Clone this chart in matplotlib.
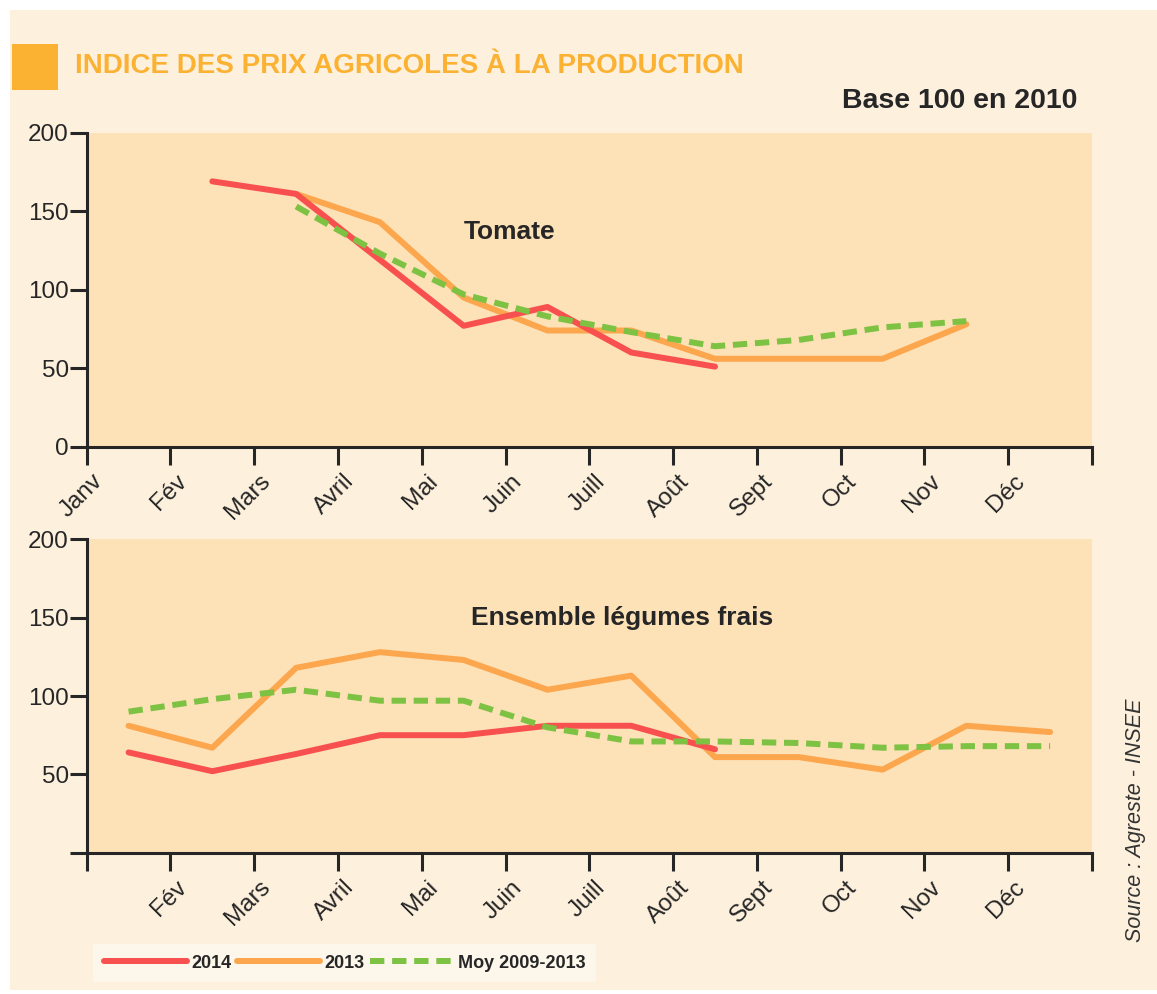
import numpy as np
import matplotlib
matplotlib.use('Agg')
import matplotlib.pyplot as plt
import matplotlib.transforms as mtransforms
from matplotlib.patches import Rectangle
from matplotlib.lines import Line2D

# ---------------- data ----------------
months = ['Janv', 'Fév', 'Mars', 'Avril', 'Mai', 'Juin', 'Juill', 'Août',
          'Sept', 'Oct', 'Nov', 'Déc']
nan = np.nan
tomate_2014 = [nan, 169, 161, 119, 77, 89, 60, 51, nan, nan, nan, nan]
tomate_2013 = [nan, nan, 161, 143, 95, 74, 74, 56, 56, 56, 78, nan]
tomate_moy = [nan, nan, 153, 123, 97, 83, 73, 64, 68, 76, 80, nan]
legumes_2014 = [64, 52, 63, 75, 75, 81, 81, 66, nan, nan, nan, nan]
legumes_2013 = [81, 67, 118, 128, 123, 104, 113, 61, 61, 53, 81, 77]
legumes_moy = [90, 98, 104, 97, 97, 80, 71, 71, 70, 67, 68, 68]
yticks = [0, 50, 100, 150, 200]
series_labels = ['2014', '2013', 'Moy 2009-2013']

# ---------------- style ----------------
RED = '#F7504F'
ORANGE = '#FCA64E'
GREEN = '#7DC242'
PEACH = '#FDE1B7'
CREAM = '#FDF0DD'
TITLE_OR = '#FBB132'
DARK = '#262626'

sans = ['Liberation Sans', 'DejaVu Sans']
plt.rcParams['font.family'] = sans

W, H = 1157, 994
fig = plt.figure(figsize=(W / 100, H / 100), dpi=100)
fig.patch.set_facecolor('white')
fig.patches.append(Rectangle((10 / W, 4 / H), 1 - 10 / W, 1 - 14 / H,
                             transform=fig.transFigure, facecolor=CREAM,
                             edgecolor='none', zorder=-5))
# title square
fig.patches.append(Rectangle((12 / W, 1 - 90 / H), 46 / W, 46 / H,
                             transform=fig.transFigure, facecolor=TITLE_OR,
                             edgecolor='none', zorder=-4))
fig.text(75 / W, 1 - 66 / H, 'INDICE DES PRIX AGRICOLES À LA PRODUCTION',
         family=sans, fontweight='bold', fontsize=20, color=TITLE_OR,
         va='center', ha='left')
fig.text(1077 / W, 1 - 101 / H, 'Base 100 en 2010', family=sans,
         fontweight='bold', fontsize=20.5, color=DARK, va='center', ha='right')

x = np.arange(12) + 0.5
lw = 4.3
label_shift = mtransforms.ScaledTranslation(5 / 100, 0, fig.dpi_scale_trans)


def style_axes(ax, labels, show_zero):
    ax.set_facecolor(PEACH)
    ax.set_xlim(0, 12)
    ax.set_ylim(0, 200)
    for s in ['top', 'right']:
        ax.spines[s].set_visible(False)
    for s in ['left', 'bottom']:
        ax.spines[s].set_color(DARK)
        ax.spines[s].set_linewidth(2.2)
    ax.set_xticks(np.arange(13))
    ax.set_xticklabels(labels, rotation=45, ha='right',
                       rotation_mode='anchor', fontsize=17.5, color=DARK)
    ax.set_yticks(yticks)
    ax.set_yticklabels([str(v) if (v != 0 or show_zero) else '' for v in yticks],
                       fontsize=17.5, color=DARK)
    ax.tick_params(axis='x', direction='out', length=13, width=2.2,
                   color=DARK, pad=4)
    ax.tick_params(axis='y', direction='out', length=12, width=2.2,
                   color=DARK, pad=1)
    for lab in ax.get_xticklabels():
        lab.set_transform(lab.get_transform() + label_shift)


def draw(ax, s14, s13, smoy):
    ax.plot(x, s13, color=ORANGE, lw=lw, solid_capstyle='round',
            solid_joinstyle='round', zorder=3)
    ax.plot(x, s14, color=RED, lw=lw, solid_capstyle='round',
            solid_joinstyle='round', zorder=4)
    ax.plot(x, smoy, color=GREEN, lw=lw, dashes=(2.4, 1.3),
            dash_capstyle='butt', zorder=5)


ax1 = fig.add_axes([86.7 / W, 1 - 446.7 / H, (1092 - 86.7) / W, 314 / H])
style_axes(ax1, months + [''], True)
draw(ax1, tomate_2014, tomate_2013, tomate_moy)
ax1.text(0.421, 0.684, 'Tomate', transform=ax1.transAxes, ha='center',
         va='center', fontsize=19, fontweight='bold', color=DARK)

ax2 = fig.add_axes([86.7 / W, 1 - 852.7 / H, (1092 - 86.7) / W, 313.4 / H])
style_axes(ax2, [''] + months[1:] + [''], False)
draw(ax2, legumes_2014, legumes_2013, legumes_moy)
ax2.text(0.5325, 0.749, 'Ensemble légumes frais', transform=ax2.transAxes,
         ha='center', va='center', fontsize=19, fontweight='bold', color=DARK)

# legend
handles = [Line2D([], [], color=RED, lw=lw, solid_capstyle='round'),
           Line2D([], [], color=ORANGE, lw=lw, solid_capstyle='round'),
           Line2D([], [], color=GREEN, lw=lw, dashes=(2.4, 1.3))]
leg = fig.legend(handles, series_labels, loc='center left',
                 bbox_to_anchor=(84 / W, 1 - 963 / H), ncol=3,
                 frameon=True, fancybox=False, handlelength=4.6,
                 handletextpad=0.25, columnspacing=0.3, borderpad=0.6,
                 prop={'family': sans, 'weight': 'bold', 'size': 13})
leg.get_frame().set_facecolor('#FEF8EE')
leg.get_frame().set_edgecolor('none')
for t in leg.get_texts():
    t.set_color(DARK)

fig.text(1135 / W, 1 - 820 / H, 'Source : Agreste - INSEE', rotation=90,
         style='italic', fontsize=15.5, color='#333333', ha='center',
         va='center', family=sans)

fig.savefig('out.png', dpi=100, facecolor=fig.get_facecolor())
